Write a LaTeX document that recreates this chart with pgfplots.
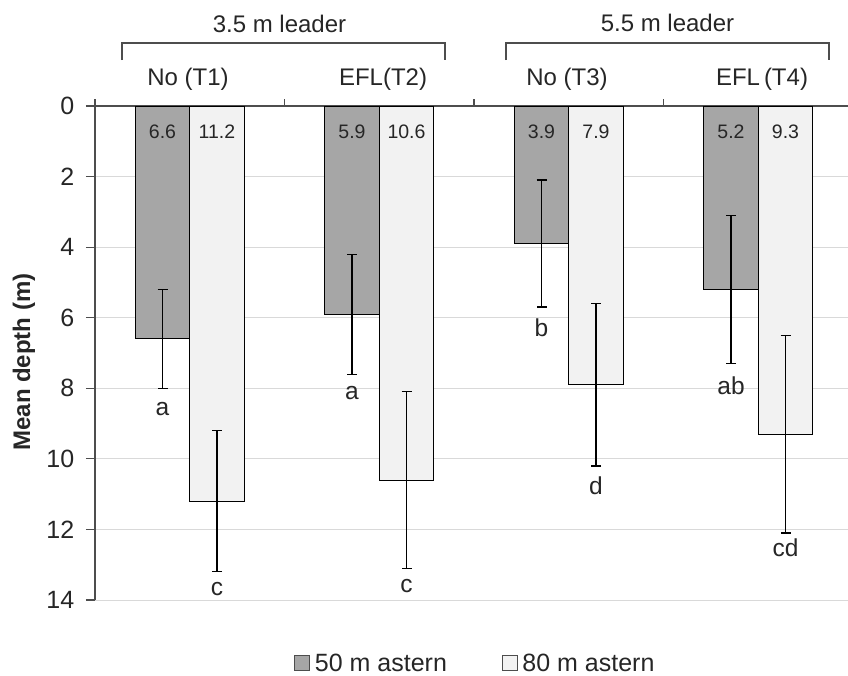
\documentclass[border=0pt]{standalone}
\usepackage{fontspec}
\setmainfont{Liberation Sans}
\usepackage{pgfplots}
\pgfplotsset{compat=1.18}
\definecolor{darkbar}{HTML}{A6A6A6}
\definecolor{lightbar}{HTML}{F2F2F2}
\definecolor{axisgray}{HTML}{4D4D4D}
\definecolor{gridgray}{HTML}{D9D9D9}
\definecolor{txt}{HTML}{262626}

\begin{document}
\begin{tikzpicture}
\useasboundingbox (0,0) rectangle (848pt,-675pt);
\begin{axis}[
  at={(95pt,-106pt)}, anchor=north west,
  scale only axis, width=753pt, height=494pt,
  xmin=0, xmax=3.9736, ymin=-14, ymax=0,
  axis x line*=top, axis y line*=left,
  axis line style={axisgray, line width=1.3pt, -},
  xtick={0,1,2,3}, xticklabels={},
  ytick={-14,-12,...,0}, yticklabels={14,12,10,8,6,4,2,0},
  tick align=outside,
  tick style={axisgray, line width=1.1pt},
  xtick style={/pgfplots/major tick length=7pt},
  ytick style={/pgfplots/major tick length=9pt},
  ymajorgrids, grid style={gridgray, line width=1pt},
  /pgf/number format/assume math mode=true,
  yticklabel style={font=\fontsize{25}{25}\selectfont, text=txt, xshift=-13pt},
  legend style={at={(rel axis cs:0.5046,-0.128)}, anchor=center,
    draw=none, fill=none, font=\fontsize{25}{28}\selectfont,
    text=txt, inner sep=0pt, nodes={inner xsep=1pt, inner ysep=1pt},
    /tikz/every even column/.append style={column sep=54pt}},
  legend columns=2, legend cell align=left,
]
% 50 m astern
\addplot[ybar, bar width=54.5pt, bar shift=0pt, fill=darkbar, draw=black, line width=1pt,
  legend image code/.code={\draw[fill=darkbar, draw=axisgray, line width=1pt] (0pt,-7.5pt) rectangle (15pt,7.5pt); \path[draw=none, fill=none] (0pt,0pt) -- (19pt,0pt);},
  error bars/.cd, y dir=both, y explicit, error mark=-,
  error bar style={line width=1.3pt, black},
  error mark options={rotate=90, line width=1.3pt, mark size=5pt, black}]
  coordinates {
  (0.3562,-6.6) +- (0,1.4)
  (1.3562,-5.9) +- (0,1.7)
  (2.3562,-3.9) +- (0,1.8)
  (3.3562,-5.2) +- (0,2.1)
};
\addlegendentry{50 m astern}
% 80 m astern
\addplot[ybar, bar width=54.5pt, bar shift=0pt, fill=lightbar, draw=black, line width=1pt,
  legend image code/.code={\draw[fill=lightbar, draw=axisgray, line width=1pt] (0pt,-7.5pt) rectangle (15pt,7.5pt); \path[draw=none, fill=none] (0pt,0pt) -- (19pt,0pt);},
  error bars/.cd, y dir=both, y explicit, error mark=-,
  error bar style={line width=1.3pt, black},
  error mark options={rotate=90, line width=1.3pt, mark size=5pt, black}]
  coordinates {
  (0.6438,-11.2) +- (0,2.0)
  (1.6438,-10.6) +- (0,2.5)
  (2.6438,-7.9) +- (0,2.3)
  (3.6438,-9.3) +- (0,2.8)
};
\addlegendentry{80 m astern}
% mean values at the top of the bars
\addplot[draw=none, forget plot, nodes near coords, point meta=explicit symbolic,
  every node near coord/.append style={anchor=base, yshift=-32pt,
    font=\fontsize{19.5}{19.5}\selectfont, text=txt}]
  coordinates {
  (0.3562,0)[6.6] (0.6438,0)[11.2] (1.3562,0)[5.9] (1.6438,0)[10.6]
  (2.3562,0)[3.9] (2.6438,0)[7.9] (3.3562,0)[5.2] (3.6438,0)[9.3]
};
% significance letters
\addplot[draw=none, forget plot, nodes near coords, point meta=explicit symbolic,
  every node near coord/.append style={anchor=base,
    font=\fontsize{24.5}{24.5}\selectfont, text=txt}]
  coordinates {
  (0.3562,-8.76)[a] (0.6438,-13.86)[c] (1.3562,-8.33)[a] (1.6438,-13.80)[c]
  (2.3562,-6.54)[b] (2.6438,-11.02)[d] (3.3562,-8.19)[ab] (3.6438,-12.77)[cd]
};
\end{axis}
% groups and treatments above the plot
\draw[axisgray, line width=1.2pt] (122pt,-60pt) -- (122pt,-43pt) -- (445pt,-43pt) -- (445pt,-60pt);
\draw[axisgray, line width=1.2pt] (506pt,-60pt) -- (506pt,-43pt) -- (829pt,-43pt) -- (829pt,-60pt);
\begin{scope}[every node/.style={anchor=base, inner sep=0pt, text=txt, font=\fontsize{24}{28}\selectfont}]
\node at (279.5pt,-32pt) {3.5 m leader};
\node at (667.5pt,-31pt) {5.5 m leader};
\node at (188pt,-85pt) {No (T1)};
\node at (383pt,-85pt) {EFL(T2)};
\node at (567pt,-85pt) {No (T3)};
\node at (762pt,-85pt) {EFL\,(T4)};
\end{scope}
\node[rotate=90, text=txt, font=\bfseries\fontsize{24}{26}\selectfont] at (24pt,-362pt) {Mean depth (m)};
\end{tikzpicture}
\end{document}
